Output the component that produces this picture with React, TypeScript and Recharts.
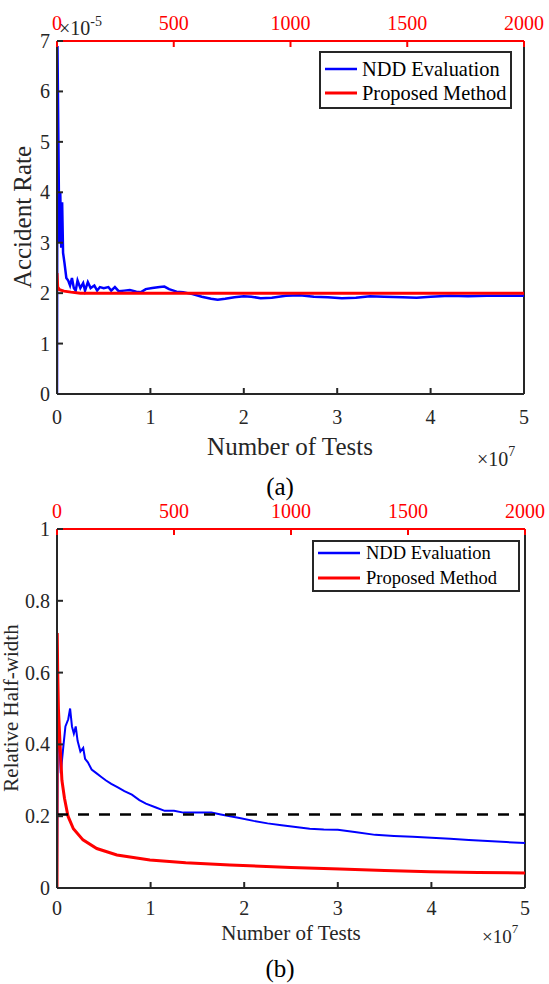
import React from 'react';
import { LineChart, Line, XAxis, YAxis, ReferenceLine } from 'recharts';

const FONT = "'Liberation Serif', 'Times New Roman', Times, serif";
const BLUE = '#0000ff';
const RED = '#ff0000';
const AX = '#262626';

const seriesNames = ['NDD Evaluation', 'Proposed Method'];
const xLabel = 'Number of Tests';
const yLabelA = 'Accident Rate';
const yLabelB = 'Relative Half-width';

// Panel (a): blue on bottom axis (x 1e7), values x 1e-5
const aBlueX = [0, 0.005, 0.015, 0.025, 0.035, 0.045, 0.055, 0.065, 0.08, 0.1, 0.12, 0.14, 0.16, 0.18, 0.2, 0.22, 0.25, 0.28, 0.3, 0.33, 0.36, 0.4, 0.43, 0.46, 0.5, 0.55, 0.58, 0.62, 0.66, 0.72, 0.78, 0.85, 0.9, 0.95, 1.02, 1.1, 1.15, 1.2, 1.28, 1.35, 1.45, 1.55, 1.65, 1.72, 1.8, 1.9, 2.0, 2.08, 2.18, 2.3, 2.45, 2.6, 2.75, 2.9, 3.05, 3.2, 3.35, 3.5, 3.7, 3.85, 4.0, 4.2, 4.4, 4.6, 4.8, 5.0];
const aBlueY = [0, 6.9, 5.0, 3.0, 4.0, 2.9, 3.8, 2.8, 2.6, 2.3, 2.25, 2.15, 2.3, 2.1, 2.05, 2.25, 2.1, 2.2, 2.05, 2.22, 2.1, 2.15, 2.05, 2.12, 2.1, 2.12, 2.05, 2.12, 2.04, 2.05, 2.06, 2.03, 2.02, 2.08, 2.1, 2.12, 2.13, 2.08, 2.03, 2.02, 1.98, 1.93, 1.89, 1.87, 1.89, 1.92, 1.94, 1.93, 1.9, 1.91, 1.95, 1.96, 1.93, 1.92, 1.9, 1.91, 1.94, 1.93, 1.92, 1.91, 1.93, 1.95, 1.94, 1.95, 1.95, 1.95];
// red on top axis (0..2000)
const aRedX = [0, 3, 10, 30, 60, 100, 200, 500, 1000, 1500, 2000];
const aRedY = [2.4, 2.12, 2.07, 2.04, 2.02, 2.0, 2.0, 2.0, 2.0, 2.0, 2.0];

// Panel (b)
const bBlueX = [0, 0.01, 0.04, 0.07, 0.09, 0.12, 0.14, 0.16, 0.18, 0.2, 0.22, 0.25, 0.28, 0.3, 0.33, 0.37, 0.42, 0.47, 0.52, 0.58, 0.65, 0.72, 0.8, 0.88, 0.95, 1.05, 1.15, 1.25, 1.35, 1.45, 1.55, 1.65, 1.75, 1.85, 1.95, 2.1, 2.25, 2.4, 2.55, 2.7, 2.85, 3.0, 3.2, 3.4, 3.6, 3.8, 4.0, 4.2, 4.4, 4.6, 4.8, 5.0];
const bBlueY = [0, 0.51, 0.32, 0.4, 0.45, 0.47, 0.5, 0.45, 0.43, 0.45, 0.41, 0.38, 0.39, 0.36, 0.35, 0.33, 0.32, 0.31, 0.3, 0.29, 0.28, 0.27, 0.26, 0.245, 0.235, 0.225, 0.215, 0.215, 0.21, 0.21, 0.21, 0.21, 0.205, 0.2, 0.195, 0.187, 0.18, 0.175, 0.17, 0.165, 0.163, 0.162, 0.155, 0.148, 0.145, 0.143, 0.14, 0.137, 0.134, 0.131, 0.128, 0.125];
const bRedX = [0, 1, 3, 6, 13, 21, 32, 47, 70, 111, 170, 256, 397, 550, 739, 1000, 1209, 1400, 1594, 1800, 2000];
const bRedY = [0, 0.71, 0.6, 0.5, 0.4, 0.3, 0.25, 0.2, 0.165, 0.134, 0.11, 0.092, 0.078, 0.07, 0.064, 0.057, 0.053, 0.049, 0.045, 0.043, 0.042];
const bThreshold = 0.205;

const bottomTicks = [0, 1, 2, 3, 4, 5];
const topTicks = [0, 500, 1000, 1500, 2000];
const aYTicks = [0, 1, 2, 3, 4, 5, 6, 7];
const bYTicks = [0, 0.2, 0.4, 0.6, 0.8, 1];

const zip = (xs: number[], ys: number[]) => xs.map((x, i) => ({ x, y: ys[i] }));

const BottomTick = (props: any) => {
  const { x, y, payload, dyText } = props;
  return (
    <g>
      <line x1={x} y1={y} x2={x} y2={y - 6} stroke={AX} strokeWidth={2} />
      <text x={x} y={y + dyText} textAnchor="middle" fontFamily={FONT} fontSize={20} fill={AX}>
        {String(payload.value)}
      </text>
    </g>
  );
};

const TopTick = (props: any) => {
  const { x, y, payload } = props;
  return (
    <g>
      <line x1={x} y1={y} x2={x} y2={y + 6} stroke={RED} strokeWidth={2} />
      <text x={x} y={y - 11} textAnchor="middle" fontFamily={FONT} fontSize={20} fill={RED}>
        {String(payload.value)}
      </text>
    </g>
  );
};

const LeftTick = (props: any) => {
  const { x, y, payload } = props;
  return (
    <g>
      <line x1={x} y1={y} x2={x + 6} y2={y} stroke={AX} strokeWidth={2} />
      <text x={x - 7} y={y} dy="0.35em" textAnchor="end" fontFamily={FONT} fontSize={20} fill={AX}>
        {String(payload.value)}
      </text>
    </g>
  );
};

const W = 549;
const H = 492;
const AXH = 30;
const AXW = 57;

function Panel(props: {
  blue: { x: number; y: number }[];
  red: { x: number; y: number }[];
  yDomain: [number, number];
  yTicks: number[];
  top: number;
  bottom: number;
  right: number;
  dyText: number;
  blueWidth: number;
  threshold?: number;
}) {
  const { blue, red, yDomain, yTicks, top, bottom, right, dyText, blueWidth, threshold } = props;
  return (
    <LineChart
      width={W}
      height={H}
      margin={{ top: top - AXH, right: W - right, bottom: H - bottom - AXH, left: 0 }}
    >
      <XAxis
        xAxisId="b"
        dataKey="x"
        type="number"
        domain={[0, 5]}
        ticks={bottomTicks}
        interval={0}
        height={AXH}
        tickSize={0}
        tickMargin={0}
        tickLine={false}
        axisLine={{ stroke: AX, strokeWidth: 2 }}
        tick={<BottomTick dyText={dyText} />}
        allowDataOverflow
      />
      <XAxis
        xAxisId="t"
        dataKey="x"
        type="number"
        orientation="top"
        domain={[0, 2000]}
        ticks={topTicks}
        interval={0}
        height={AXH}
        tickSize={0}
        tickMargin={0}
        tickLine={false}
        axisLine={{ stroke: RED, strokeWidth: 2 }}
        tick={<TopTick />}
        allowDataOverflow
      />
      <YAxis
        type="number"
        domain={yDomain}
        ticks={yTicks}
        interval={0}
        width={AXW}
        tickSize={0}
        tickMargin={0}
        tickLine={false}
        axisLine={{ stroke: AX, strokeWidth: 2 }}
        tick={<LeftTick />}
        allowDataOverflow
      />
      <ReferenceLine xAxisId="b" x={5} stroke={AX} strokeWidth={2} />
      <Line
        xAxisId="b"
        data={blue}
        dataKey="y"
        type="linear"
        stroke={BLUE}
        strokeWidth={blueWidth}
        dot={false}
        activeDot={false}
        isAnimationActive={false}
      />
      <Line
        xAxisId="t"
        data={red}
        dataKey="y"
        type="linear"
        stroke={RED}
        strokeWidth={3}
        dot={false}
        activeDot={false}
        isAnimationActive={false}
      />
      {threshold !== undefined && (
        <ReferenceLine
          xAxisId="b"
          y={threshold}
          stroke="#000000"
          strokeWidth={2.5}
          strokeDasharray="11 10"
        />
      )}
    </LineChart>
  );
}

function Legend(props: { x: number; y: number; w: number; h: number; fs: number; row1: number; row2: number; lx1: number; lx2: number; tx: number }) {
  const { x, y, w, h, fs, row1, row2, lx1, lx2, tx } = props;
  return (
    <g>
      <rect x={x} y={y} width={w} height={h} fill="#ffffff" stroke={AX} strokeWidth={2} />
      <line x1={lx1} y1={row1} x2={lx2} y2={row1} stroke={BLUE} strokeWidth={2.5} />
      <line x1={lx1} y1={row2} x2={lx2} y2={row2} stroke={RED} strokeWidth={3} />
      <text x={tx} y={row1} dy="0.35em" fontFamily={FONT} fontSize={fs} fill="#000">{seriesNames[0]}</text>
      <text x={tx} y={row2} dy="0.35em" fontFamily={FONT} fontSize={fs} fill="#000">{seriesNames[1]}</text>
    </g>
  );
}

export default function App() {
  return (
    <div style={{ position: 'absolute', left: 0, top: 0, width: W, height: 984, background: '#ffffff' }}>
      <div style={{ position: 'absolute', left: 0, top: 0 }}>
        <Panel
          blue={zip(aBlueX, aBlueY)}
          red={zip(aRedX, aRedY)}
          yDomain={[0, 7]}
          yTicks={aYTicks}
          top={41}
          bottom={394}
          right={524}
          dyText={30}
          blueWidth={2.5}
        />
      </div>
      <div style={{ position: 'absolute', left: 0, top: 492 }}>
        <Panel
          blue={zip(bBlueX, bBlueY)}
          red={zip(bRedX, bRedY)}
          yDomain={[0, 1]}
          yTicks={bYTicks}
          top={37}
          bottom={396}
          right={525}
          dyText={27}
          blueWidth={2}
          threshold={bThreshold}
        />
      </div>
      <svg width={W} height={984} style={{ position: 'absolute', left: 0, top: 0, pointerEvents: 'none' }}>
        {/* Panel a */}
        <text x={59} y={35} fontFamily={FONT} fontSize={20} fill={AX}>
          ×10<tspan dy={-9} fontSize={14}>-5</tspan>
        </text>
        <text x={22} y={217} transform="rotate(-90 22 217)" textAnchor="middle" dy="0.35em" fontFamily={FONT} fontSize={25} fill={AX}>
          {yLabelA}
        </text>
        <text x={290} y={455} textAnchor="middle" fontFamily={FONT} fontSize={25} fill={AX}>{xLabel}</text>
        <text x={477} y={466} fontFamily={FONT} fontSize={20} fill={AX}>
          ×10<tspan dy={-10} fontSize={14}>7</tspan>
        </text>
        <text x={280} y={495} textAnchor="middle" fontFamily={FONT} fontSize={25} fill="#000">(a)</text>
        <Legend x={320} y={52} w={191} h={56} fs={20.4} row1={69} row2={93} lx1={325} lx2={357} tx={362} />

        {/* Panel b */}
        <text x={11} y={708} transform="rotate(-90 11 708)" textAnchor="middle" dy="0.35em" fontFamily={FONT} fontSize={21} fill={AX}>
          {yLabelB}
        </text>
        <text x={291} y={940} textAnchor="middle" fontFamily={FONT} fontSize={21} fill={AX}>{xLabel}</text>
        <text x={482} y={943} fontFamily={FONT} fontSize={19} fill={AX}>
          ×10<tspan dy={-10} fontSize={13}>7</tspan>
        </text>
        <text x={280} y={977} textAnchor="middle" fontFamily={FONT} fontSize={25} fill="#000">(b)</text>
        <Legend x={313} y={541} w={206} h={50} fs={18.5} row1={553} row2={578} lx1={318} lx2={360} tx={366} />
      </svg>
    </div>
  );
}
